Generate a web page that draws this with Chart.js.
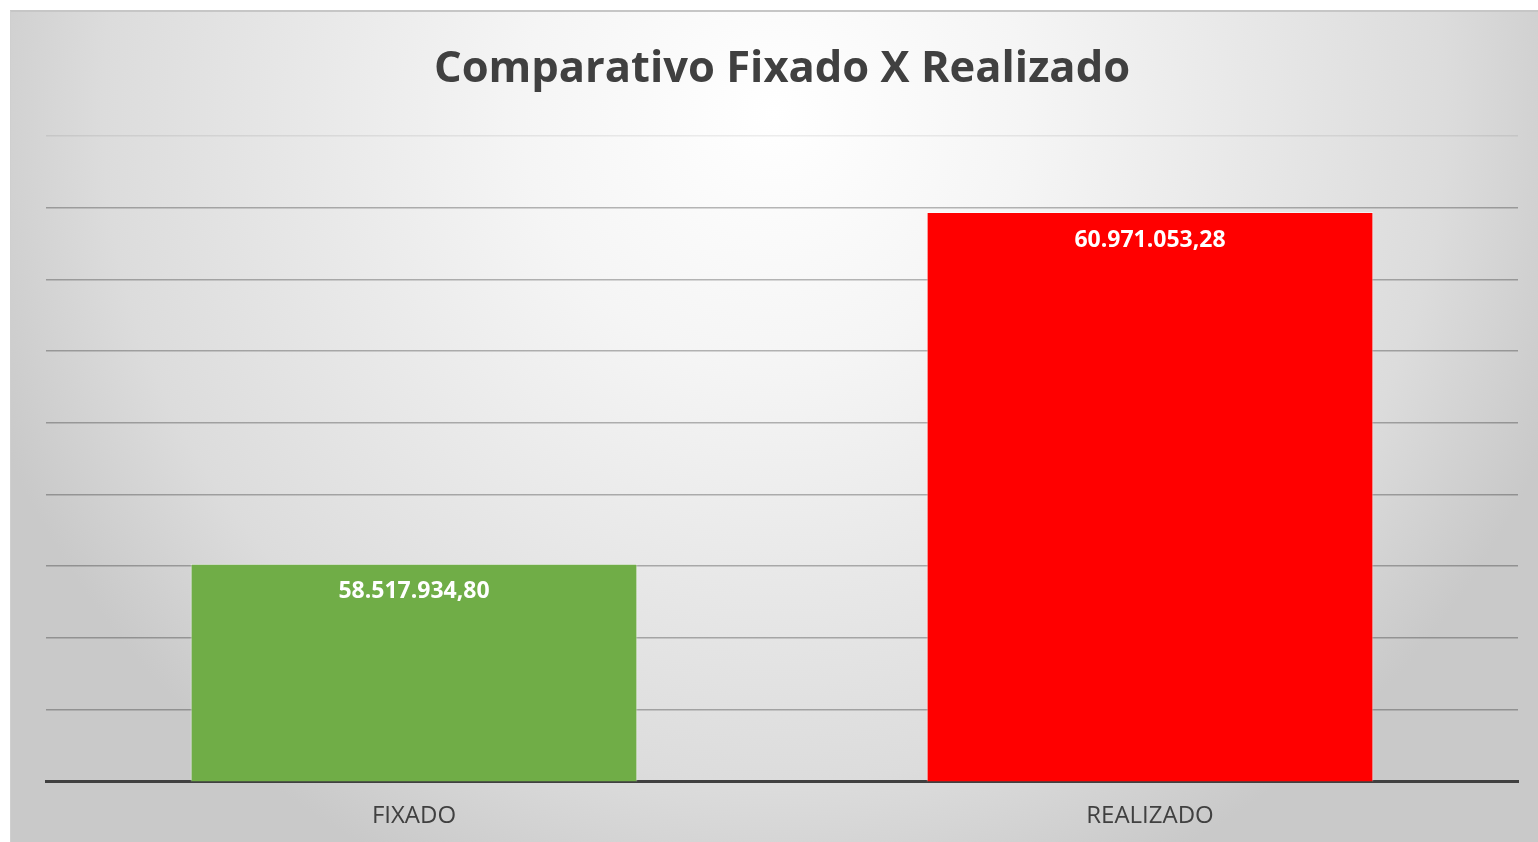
<!DOCTYPE html>
<html>
<head>
<meta charset="utf-8">
<script src="https://cdn.jsdelivr.net/npm/chart.js@4"></script>
<style>
  html, body { margin: 0; padding: 0; background: #ffffff; overflow: hidden; }
  #wrap {
    position: absolute;
    left: 10px;
    top: 10px;
    width: 1528px;
    height: 838px;
    border-top: 2px solid #c6c6c6;
    border-left: 1px solid #cfcfcf;
    box-sizing: border-box;
  }
</style>
</head>
<body>
<div id="wrap"><canvas id="grafico"></canvas></div>
<script>
const categorias = ["FIXADO", "REALIZADO"];
const valores = [58517934.80, 60971053.28];
const cores = ["#70ad47", "#ff0000"];
const eixo_min = 57000000;
const eixo_max = 61500000;
const eixo_passo = 500000;

function formata_br(v) {
  let partes = v.toFixed(2).split(".");
  let inteiro = partes[0].replace(/\B(?=(\d{3})+(?!\d))/g, ".");
  return inteiro + "," + partes[1];
}

// fundo em gradiente radial, estilo Excel
const fundo = {
  id: "fundo",
  beforeDraw(chart) {
    const c = chart.ctx;
    const w = chart.width;
    const h = chart.height;
    const cx = w * 0.5;
    const cy = h * 0.12;
    const g = c.createRadialGradient(cx, cy, 0, cx, cy, w * 0.55);
    g.addColorStop(0, "#ffffff");
    g.addColorStop(0.3, "#f5f5f5");
    g.addColorStop(0.8, "#dcdcdc");
    g.addColorStop(1, "#c9c9c9");
    c.save();
    c.fillStyle = g;
    c.fillRect(0, 0, w, h);
    c.restore();
  },
};

// rotulos de valor dentro do topo das barras
const rotulos = {
  id: "rotulos",
  afterDatasetsDraw(chart) {
    const c = chart.ctx;
    const meta = chart.getDatasetMeta(0);
    c.save();
    c.fillStyle = "#ffffff";
    c.font = "bold 23px 'Open Sans', sans-serif";
    c.textAlign = "center";
    c.textBaseline = "middle";
    meta.data.forEach((bar, i) => {
      c.fillText(formata_br(valores[i]), bar.x, bar.y + 28);
    });
    c.restore();
  },
};

const ctx = document.getElementById("grafico");
new Chart(ctx, {
  type: "bar",
  data: {
    labels: categorias,
    datasets: [
      {
        data: valores,
        backgroundColor: cores,
        borderColor: "rgba(255,255,255,0.55)",
        borderWidth: 1,
        categoryPercentage: 1,
        barPercentage: 0.607,
      },
    ],
  },
  options: {
    responsive: true,
    maintainAspectRatio: false,
    animation: false,
    layout: {
      padding: { left: 35, right: 20, top: 0, bottom: 4 },
    },
    plugins: {
      legend: { display: false },
      tooltip: { enabled: false },
      title: {
        display: true,
        text: "Comparativo Fixado X Realizado",
        color: "#404040",
        font: { family: "'Open Sans', sans-serif", size: 43.5, weight: "bold" },
        padding: { top: 32, bottom: 40 },
      },
    },
    scales: {
      x: {
        grid: { display: false },
        border: { display: true, color: "#404040", width: 3 },
        ticks: {
          color: "#404040",
          padding: 13,
          font: { family: "'Open Sans', sans-serif", size: 24 },
        },
      },
      y: {
        min: eixo_min,
        max: eixo_max,
        ticks: { display: false, stepSize: eixo_passo },
        border: { display: false },
        grid: {
          drawTicks: false,
          lineWidth: 1.5,
          color: (c) => {
            if (!c.tick) return "rgba(0,0,0,0.28)";
            if (c.tick.value === eixo_min) return "transparent";
            if (c.tick.value === eixo_max) return "rgba(0,0,0,0.07)";
            return "rgba(0,0,0,0.28)";
          },
        },
      },
    },
  },
  plugins: [fundo, rotulos],
});
</script>
</body>
</html>
